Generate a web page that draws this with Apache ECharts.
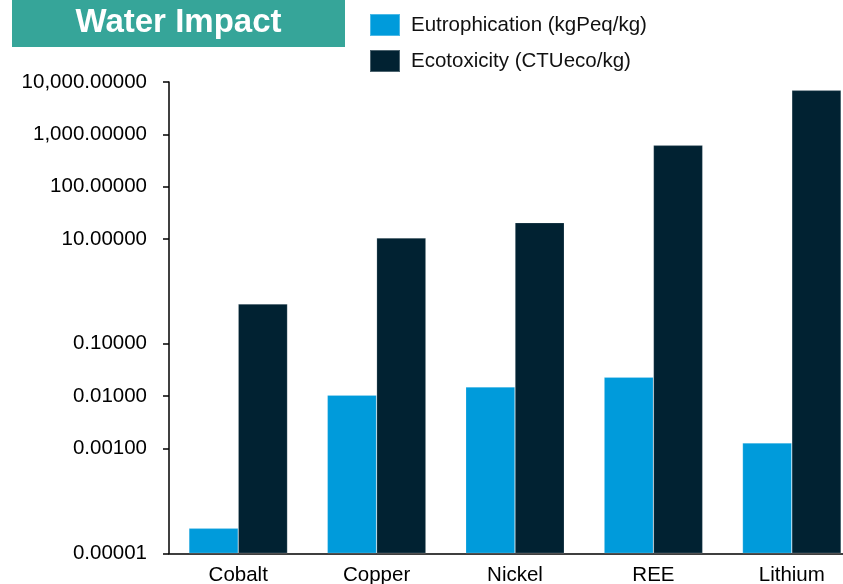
<!DOCTYPE html>
<html>
<head>
<meta charset="utf-8">
<title>Water Impact</title>
<script src="https://cdn.jsdelivr.net/npm/echarts@6/dist/echarts.min.js"></script>
<style>
  html, body { margin: 0; padding: 0; background: #fff; }
  #chart { width: 843px; height: 584px; }
</style>
</head>
<body>
<div id="chart"></div>
<script>
// Materials and their water impact indicators (log scale)
const categories = ['Cobalt', 'Copper', 'Nickel', 'REE', 'Lithium'];
const eutrophication = [0.00003, 0.0105, 0.015, 0.023, 0.00128];
const ecotoxicity = [0.575, 10.5, 20.6, 618, 6935];
// Decades that carry a tick and label on the value axis
const yTickValues = [0.00001, 0.001, 0.01, 0.1, 10, 100, 1000, 10000];

const FONT = 'Liberation Sans, Arial, Helvetica, sans-serif';

function fmt(v) {
  return Number(v).toLocaleString('en-US', { minimumFractionDigits: 5, maximumFractionDigits: 5 });
}

const chart = echarts.init(document.getElementById('chart'), null, { renderer: 'canvas' });

chart.setOption({
  animation: false,
  backgroundColor: '#ffffff',
  textStyle: { fontFamily: FONT },
  graphic: [
    {
      type: 'rect',
      shape: { x: 12, y: 0, width: 333, height: 47 },
      style: { fill: '#36A599' },
      z: 10
    },
    {
      type: 'text',
      x: 178.5,
      y: 23,
      style: {
        text: 'Water Impact',
        fill: '#ffffff',
        font: 'bold 33px ' + FONT,
        align: 'center',
        verticalAlign: 'middle'
      },
      z: 11
    }
  ],
  legend: {
    orient: 'vertical',
    left: 369,
    top: 13,
    padding: 0,
    itemWidth: 30,
    itemHeight: 22,
    itemGap: 12,
    icon: 'rect',
    data: ['Eutrophication (kgPeq/kg)', 'Ecotoxicity (CTUeco/kg)'],
    textStyle: { fontSize: 20.5, color: '#111111', fontFamily: FONT, padding: [0, 0, 0, 6] }
  },
  grid: {
    left: 169,
    right: -18,
    top: 82,
    bottom: 30.7,
    containLabel: false,
    outerBoundsMode: 'none'
  },
  xAxis: {
    type: 'category',
    data: categories,
    axisLine: { show: true, lineStyle: { color: '#000000', width: 1.5 } },
    axisTick: { show: false },
    axisLabel: { fontSize: 20.5, color: '#000000', margin: 12, fontFamily: FONT }
  },
  yAxis: {
    type: 'log',
    logBase: 10,
    min: 0.00001,
    max: 10000,
    interval: 1,
    startValue: 0.00001,
    splitLine: { show: false },
    axisLine: { show: true, lineStyle: { color: '#000000', width: 1.5 } },
    axisTick: {
      show: true,
      inside: false,
      length: 6,
      lineStyle: { color: '#000000', width: 1.5 },
      customValues: yTickValues
    },
    axisLabel: {
      fontSize: 20.5,
      color: '#000000',
      margin: 22,
      fontFamily: FONT,
      customValues: yTickValues,
      formatter: fmt
    }
  },
  series: [
    {
      name: 'Eutrophication (kgPeq/kg)',
      type: 'bar',
      data: eutrophication,
      barWidth: 49.3,
      barGap: '0%',
      itemStyle: { color: '#009BDB', borderColor: 'rgba(255,255,255,0.3)', borderWidth: 0.6 }
    },
    {
      name: 'Ecotoxicity (CTUeco/kg)',
      type: 'bar',
      data: ecotoxicity,
      barWidth: 49.3,
      barGap: '0%',
      itemStyle: { color: '#012232', borderColor: 'rgba(255,255,255,0.3)', borderWidth: 0.6 }
    }
  ]
});
</script>
</body>
</html>
